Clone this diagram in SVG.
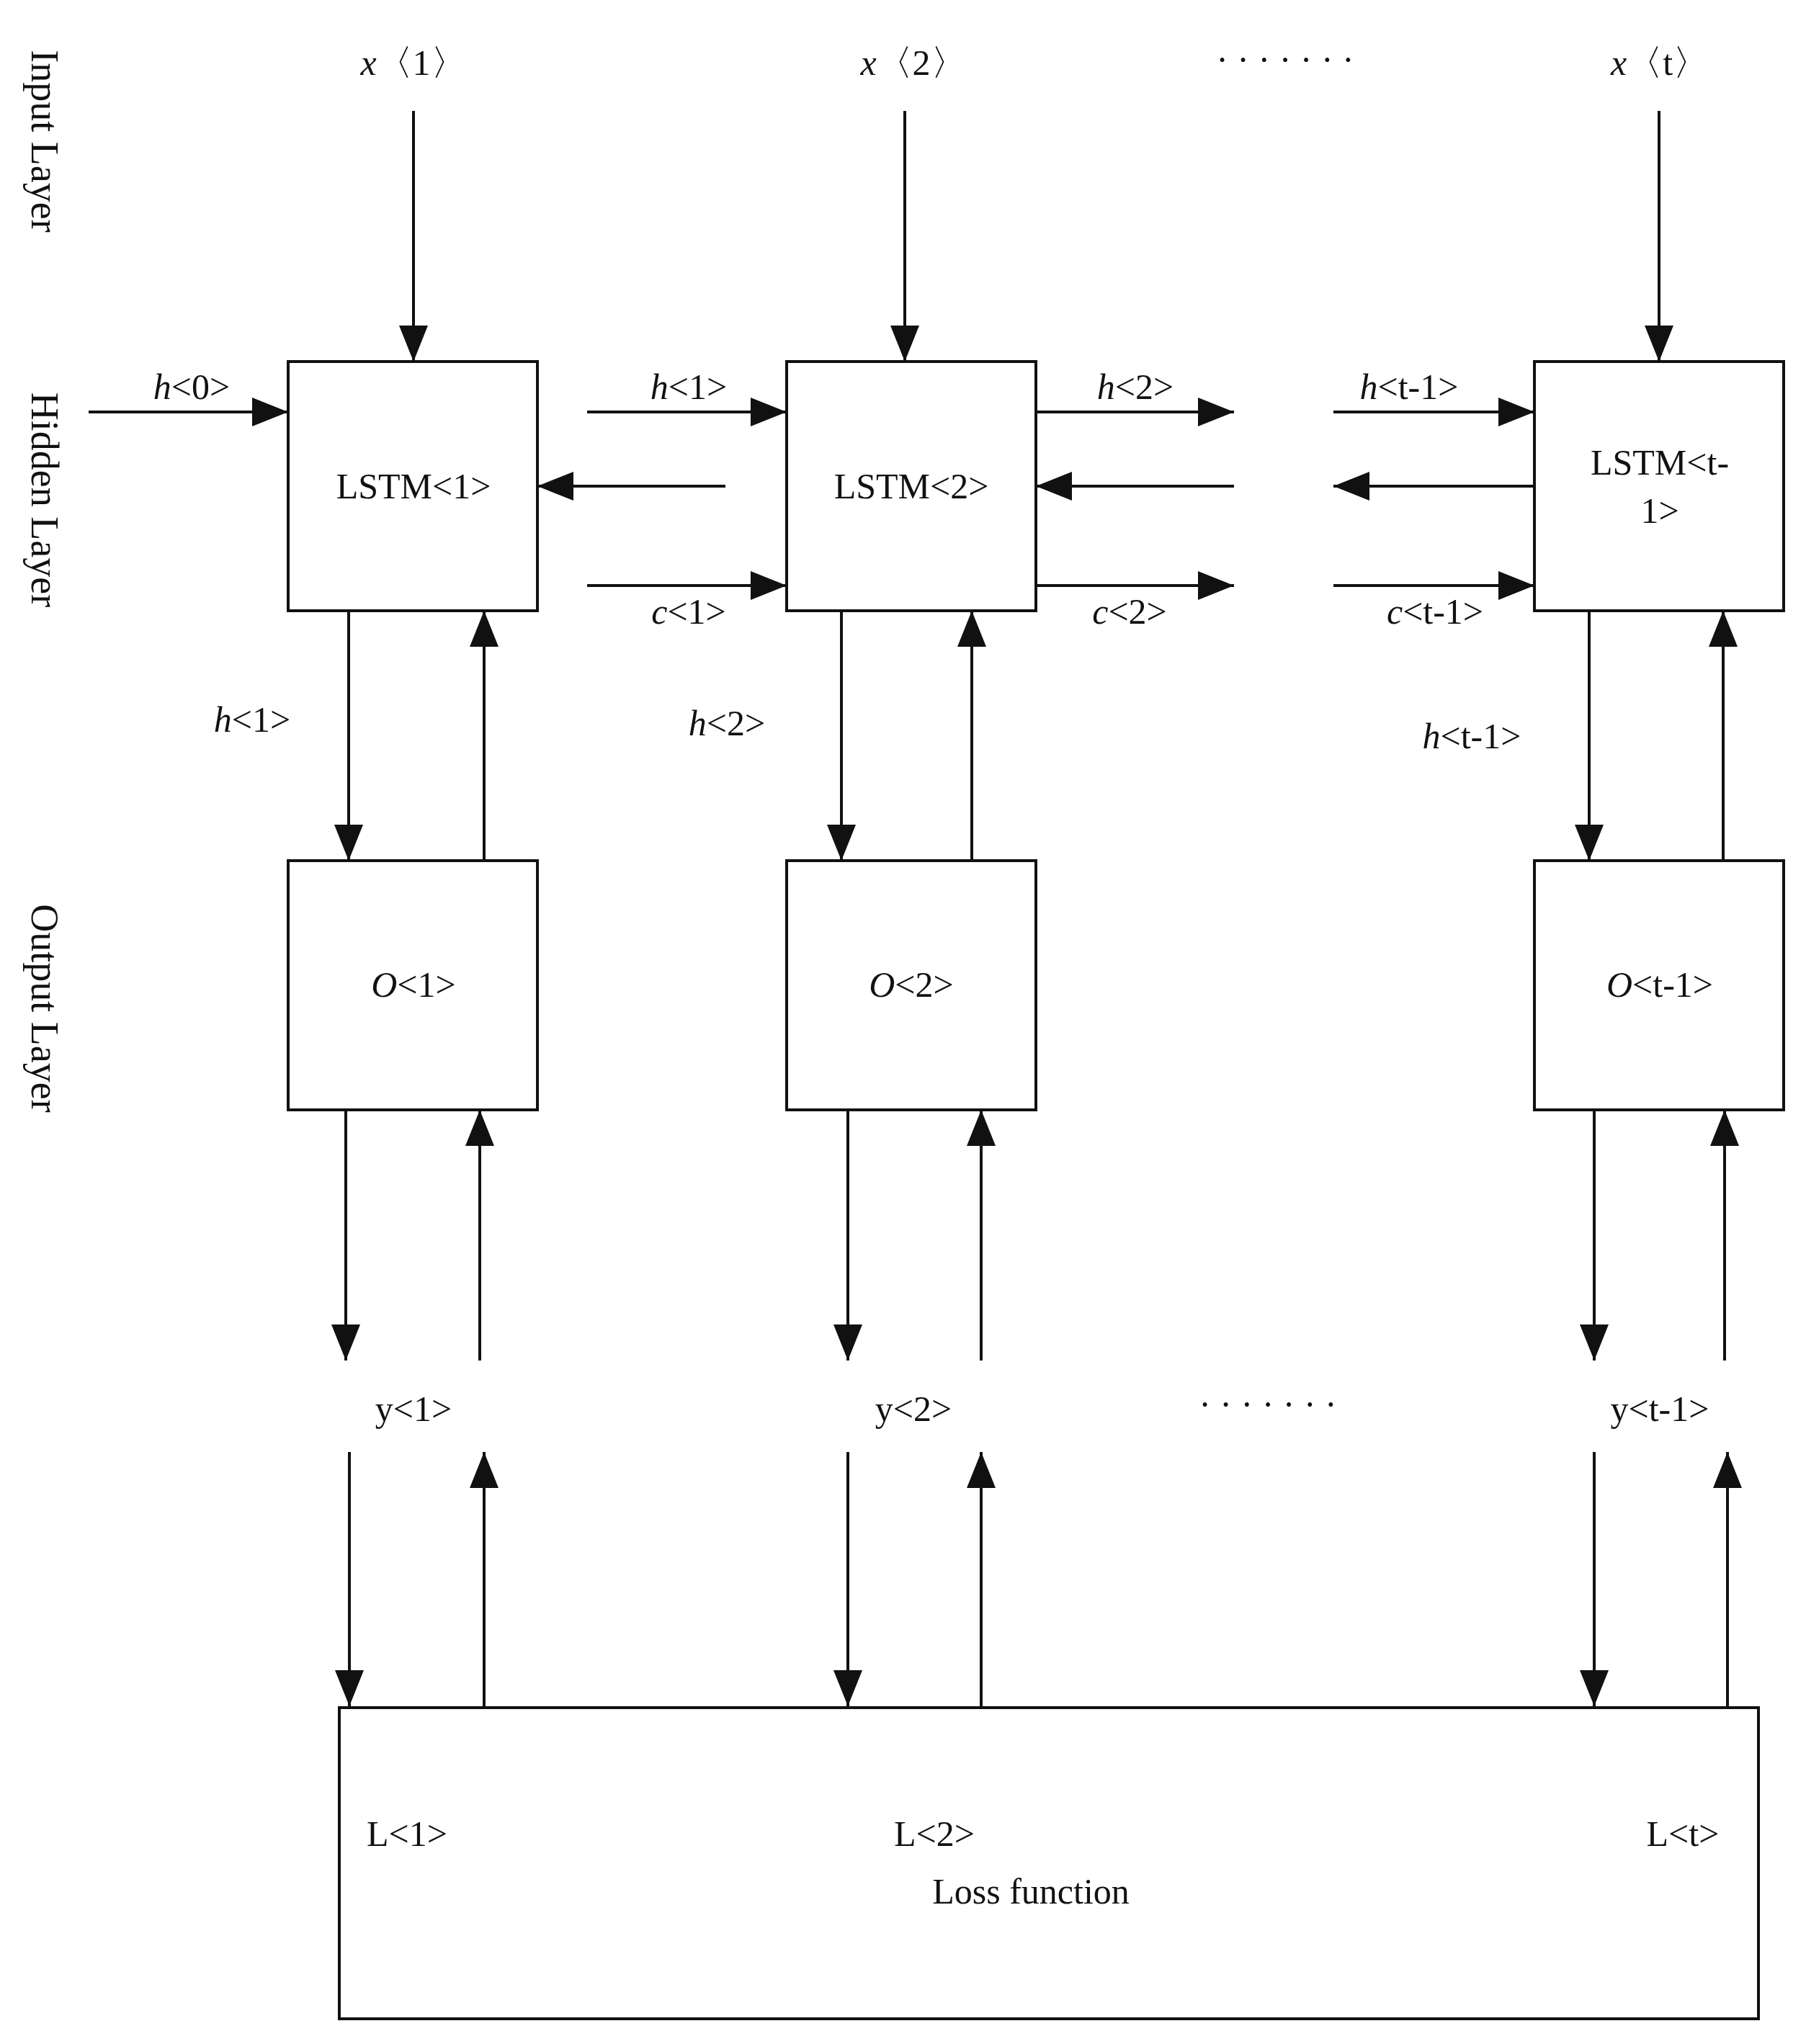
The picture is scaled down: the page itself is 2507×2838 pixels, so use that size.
<svg xmlns="http://www.w3.org/2000/svg" width="2507" height="2838" viewBox="0 0 2507 2838">
<style>
text{font-family:"Liberation Serif","Times New Roman",serif;font-size:50px;fill:#111;text-anchor:middle}
.i{font-style:italic}
.box{fill:#fff;stroke:#111;stroke-width:4}
.c line{stroke:#111;stroke-width:4;marker-end:url(#ah)}
.side{font-size:54px}
</style>
<defs>
<marker id="ah" markerUnits="userSpaceOnUse" markerWidth="52" markerHeight="40" refX="50" refY="20" orient="auto"><path d="M0,0 L50,20 L0,40 Z" fill="#111"/></marker>
</defs>
<rect width="2507" height="2838" fill="#fff"/>
<g id="sides">
<text class="side" transform="translate(44,196) rotate(90)">Input Layer</text>
<text class="side" transform="translate(44,694) rotate(90)">Hidden Layer</text>
<text class="side" transform="translate(44,1400) rotate(90)">Output Layer</text>
</g>
<g id="inputs">
<text x="574" y="104"><tspan class="i">x</tspan>〈1〉</text>
<text x="1268" y="104"><tspan class="i">x</tspan>〈2〉</text>
<text x="1784" y="100">· · · · · · ·</text>
<text x="2304" y="104"><tspan class="i">x</tspan>〈t〉</text>
</g>
<g id="lstm1"><rect class="box" x="400" y="502" width="346" height="346"/><text x="574" y="692">LSTM&lt;1&gt;</text></g>
<g id="lstm2"><rect class="box" x="1092" y="502" width="346" height="346"/><text x="1265" y="692">LSTM&lt;2&gt;</text></g>
<g id="lstmt"><rect class="box" x="2130" y="502" width="346" height="346"/><text x="2304" y="659">LSTM&lt;t-</text><text x="2304" y="726">1&gt;</text></g>
<g id="o1"><rect class="box" x="400" y="1195" width="346" height="346"/><text x="574" y="1384"><tspan class="i">O</tspan>&lt;1&gt;</text></g>
<g id="o2"><rect class="box" x="1092" y="1195" width="346" height="346"/><text x="1265" y="1384"><tspan class="i">O</tspan>&lt;2&gt;</text></g>
<g id="ot"><rect class="box" x="2130" y="1195" width="346" height="346"/><text x="2304" y="1384"><tspan class="i">O</tspan>&lt;t-1&gt;</text></g>
<g id="ylabels">
<text x="574" y="1973">y&lt;1&gt;</text>
<text x="1268" y="1973">y&lt;2&gt;</text>
<text x="1760" y="1967">· · · · · · ·</text>
<text x="2304" y="1973">y&lt;t-1&gt;</text>
</g>
<g id="loss"><rect class="box" x="471" y="2371" width="1970" height="432"/>
<text x="565" y="2563">L&lt;1&gt;</text><text x="1297" y="2563">L&lt;2&gt;</text><text x="2336" y="2563">L&lt;t&gt;</text>
<text x="1431" y="2643">Loss function</text></g>
<g id="connectors" class="c">
<line x1="574" y1="154" x2="574" y2="502"/>
<line x1="1256" y1="154" x2="1256" y2="502"/>
<line x1="2303" y1="154" x2="2303" y2="502"/>
<line x1="123" y1="572" x2="400" y2="572"/>
<line x1="815" y1="572" x2="1092" y2="572"/>
<line x1="1007" y1="675" x2="746" y2="675"/>
<line x1="815" y1="813" x2="1092" y2="813"/>
<line x1="1438" y1="572" x2="1713" y2="572"/>
<line x1="1713" y1="675" x2="1438" y2="675"/>
<line x1="1438" y1="813" x2="1713" y2="813"/>
<line x1="1851" y1="572" x2="2130" y2="572"/>
<line x1="2130" y1="675" x2="1851" y2="675"/>
<line x1="1851" y1="813" x2="2130" y2="813"/>
<line x1="484" y1="848" x2="484" y2="1195"/>
<line x1="672" y1="1195" x2="672" y2="848"/>
<line x1="1168" y1="848" x2="1168" y2="1195"/>
<line x1="1349" y1="1195" x2="1349" y2="848"/>
<line x1="2206" y1="848" x2="2206" y2="1195"/>
<line x1="2392" y1="1195" x2="2392" y2="848"/>
<line x1="480" y1="1541" x2="480" y2="1889"/>
<line x1="666" y1="1889" x2="666" y2="1541"/>
<line x1="1177" y1="1541" x2="1177" y2="1889"/>
<line x1="1362" y1="1889" x2="1362" y2="1541"/>
<line x1="2213" y1="1541" x2="2213" y2="1889"/>
<line x1="2394" y1="1889" x2="2394" y2="1541"/>
<line x1="485" y1="2016" x2="485" y2="2369"/>
<line x1="672" y1="2369" x2="672" y2="2016"/>
<line x1="1177" y1="2016" x2="1177" y2="2369"/>
<line x1="1362" y1="2369" x2="1362" y2="2016"/>
<line x1="2213" y1="2016" x2="2213" y2="2369"/>
<line x1="2398" y1="2369" x2="2398" y2="2016"/>
</g>
<g id="clabels">
<text x="266" y="554"><tspan class="i">h</tspan>&lt;0&gt;</text>
<text x="956" y="554"><tspan class="i">h</tspan>&lt;1&gt;</text>
<text x="956" y="866"><tspan class="i">c</tspan>&lt;1&gt;</text>
<text x="1576" y="554"><tspan class="i">h</tspan>&lt;2&gt;</text>
<text x="1568" y="866"><tspan class="i">c</tspan>&lt;2&gt;</text>
<text x="1956" y="554"><tspan class="i">h</tspan>&lt;t-1&gt;</text>
<text x="1992" y="866"><tspan class="i">c</tspan>&lt;t-1&gt;</text>
<text x="350" y="1016"><tspan class="i">h</tspan>&lt;1&gt;</text>
<text x="1009" y="1021"><tspan class="i">h</tspan>&lt;2&gt;</text>
<text x="2043" y="1039"><tspan class="i">h</tspan>&lt;t-1&gt;</text>
</g>
</svg>
